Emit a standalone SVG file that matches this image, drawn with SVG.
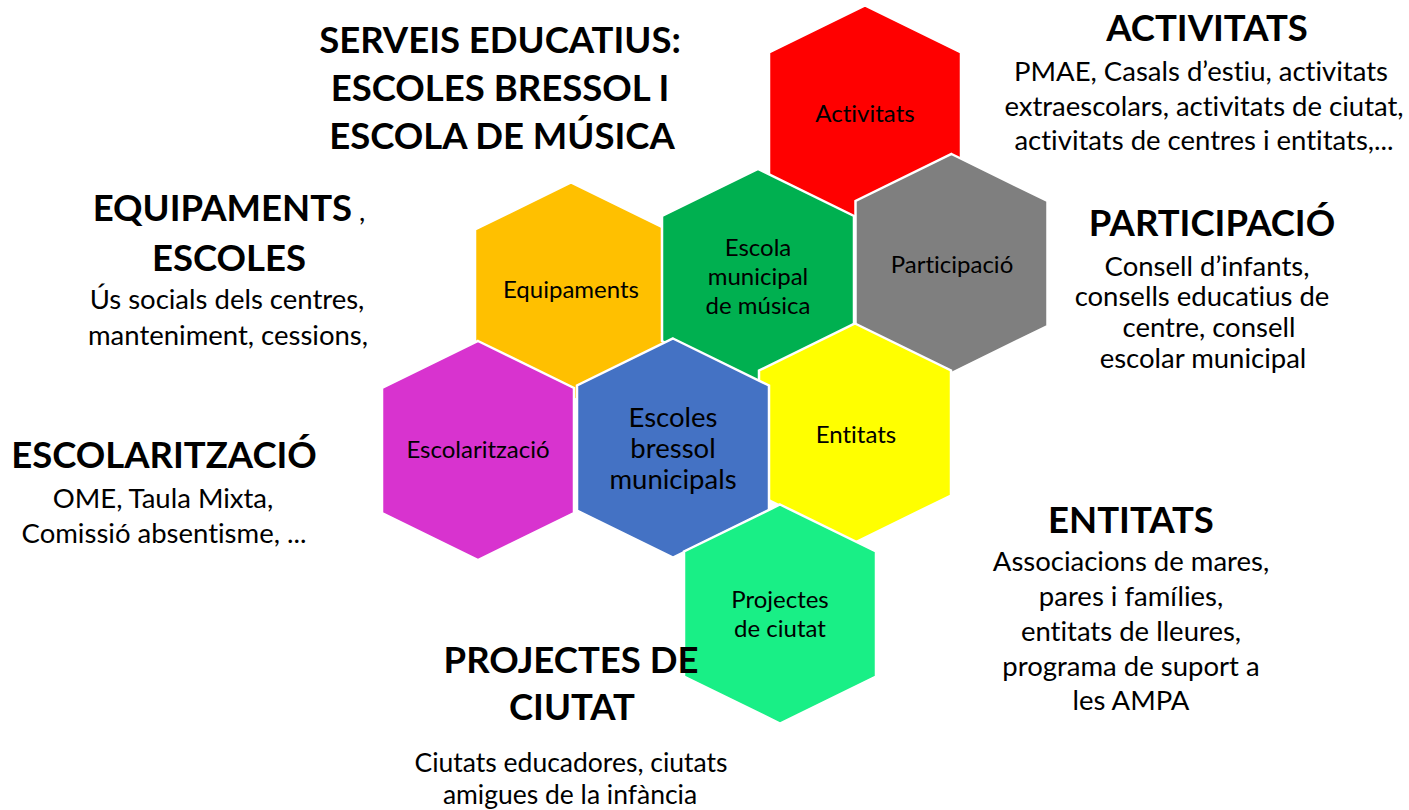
<svg xmlns="http://www.w3.org/2000/svg" xmlns:xlink="http://www.w3.org/1999/xlink" width="1409" height="810" viewBox="0 0 1409 810">
<style>
.hex{stroke:#FFFFFF;stroke-width:2.5;stroke-linejoin:miter}
text{font-variant-ligatures:none}
.lbl{font-family:Lato,"Liberation Sans",sans-serif;font-size:24px;fill:#000;text-anchor:middle}
.lbl2{font-family:Lato,"Liberation Sans",sans-serif;font-size:27.5px;fill:#000;text-anchor:middle}
.hd{font-family:Lato,"Liberation Sans",sans-serif;font-weight:bold;font-size:36.5px;fill:#000;text-anchor:middle}
.tx{font-family:Lato,"Liberation Sans",sans-serif;font-size:27.5px;fill:#000;text-anchor:middle}
.tx2{font-family:Lato,"Liberation Sans",sans-serif;font-size:26.5px;fill:#000;text-anchor:middle}
</style>
<defs>
<polygon id="hexshape" points="0,-109.5 96,-62.5 96,62.5 0,109.5 -96,62.5 -96,-62.5"/>
</defs>
<rect width="1409" height="810" fill="#FFFFFF"/>
<g id="connectors"></g>

<g id="node-equipaments">
<use xlink:href="#hexshape" href="#hexshape" transform="translate(571,292)" class="hex" fill="#FFC000"/>
<text class="lbl" x="571" y="298">Equipaments</text>
</g>
<g id="node-activitats">
<use xlink:href="#hexshape" href="#hexshape" transform="translate(865,115)" class="hex" fill="#FF0000"/>
<text class="lbl" x="865" y="122">Activitats</text>
</g>
<g id="node-escola-musica">
<use xlink:href="#hexshape" href="#hexshape" transform="translate(758,278.5)" class="hex" fill="#00B050"/>
<text class="lbl" x="758" y="256">Escola</text>
<text class="lbl" x="758" y="285">municipal</text>
<text class="lbl" x="758" y="314">de música</text>
</g>
<g id="node-participacio">
<use xlink:href="#hexshape" href="#hexshape" transform="translate(951.5,263.5)" class="hex" fill="#7F7F7F"/>
<text class="lbl" x="952" y="273">Participació</text>
</g>
<g id="node-entitats">
<use xlink:href="#hexshape" href="#hexshape" transform="translate(855,433)" class="hex" fill="#FFFF00"/>
<text class="lbl" x="856" y="443">Entitats</text>
</g>
<g id="node-escolaritzacio">
<use xlink:href="#hexshape" href="#hexshape" transform="translate(478,450.5)" class="hex" fill="#D833CF"/>
<text class="lbl" x="478" y="458">Escolarització</text>
</g>
<g id="node-escoles-bressol">
<use xlink:href="#hexshape" href="#hexshape" transform="translate(673,448)" class="hex" fill="#4472C4"/>
<text class="lbl2" x="673" y="427">Escoles</text>
<text class="lbl2" x="673" y="458">bressol</text>
<text class="lbl2" x="673" y="489">municipals</text>
</g>
<g id="node-projectes">
<use xlink:href="#hexshape" href="#hexshape" transform="translate(780,614)" class="hex" fill="#19EF86"/>
<text class="lbl" x="780" y="608">Projectes</text>
<text class="lbl" x="780" y="637">de ciutat</text>
</g>

<g id="text-serveis">
<text class="hd" x="500" y="53">SERVEIS EDUCATIUS:</text>
<text class="hd" x="500" y="101">ESCOLES BRESSOL I</text>
<text class="hd" x="502" y="149">ESCOLA DE MÚSICA</text>
</g>
<g id="text-activitats">
<text class="hd" x="1207" y="41">ACTIVITATS</text>
<text class="tx" x="1201" y="81">PMAE, Casals d’estiu, activitats</text>
<text class="tx" x="1204" y="116">extraescolars, activitats de ciutat,</text>
<text class="tx" x="1204" y="150">activitats de centres i entitats,...</text>
</g>
<g id="text-equipaments">
<text class="hd" x="229" y="221">EQUIPAMENTS<tspan style="font-weight:normal;font-size:27.5px"> ,</tspan></text>
<text class="hd" x="229" y="271">ESCOLES</text>
<text class="tx" x="227" y="309">Ús socials dels centres,</text>
<text class="tx" x="228" y="345">manteniment, cessions,</text>
</g>
<g id="text-participacio">
<text class="hd" x="1212" y="236">PARTICIPACIÓ</text>
<text class="tx" x="1207" y="276">Consell d’infants,</text>
<text class="tx" x="1202" y="306">consells educatius de</text>
<text class="tx" x="1209" y="337">centre, consell</text>
<text class="tx" x="1203" y="368">escolar municipal</text>
</g>
<g id="text-escolaritzacio">
<text class="hd" x="164" y="468">ESCOLARITZACIÓ</text>
<text class="tx" x="163" y="508">OME, Taula Mixta,</text>
<text class="tx" x="164" y="543">Comissió absentisme, ...</text>
</g>
<g id="text-entitats">
<text class="hd" x="1131" y="533">ENTITATS</text>
<text class="tx" x="1131" y="571">Associacions de mares,</text>
<text class="tx" x="1131" y="606">pares i famílies,</text>
<text class="tx" x="1131" y="641">entitats de lleures,</text>
<text class="tx" x="1131" y="676">programa de suport a</text>
<text class="tx" x="1131" y="710">les AMPA</text>
</g>
<g id="text-projectes">
<text class="hd" x="571" y="673">PROJECTES DE</text>
<text class="hd" x="572" y="720">CIUTAT</text>
<text class="tx2" x="571" y="772">Ciutats educadores, ciutats</text>
<text class="tx2" x="570" y="804">amigues de la infància</text>
</g>
</svg>
